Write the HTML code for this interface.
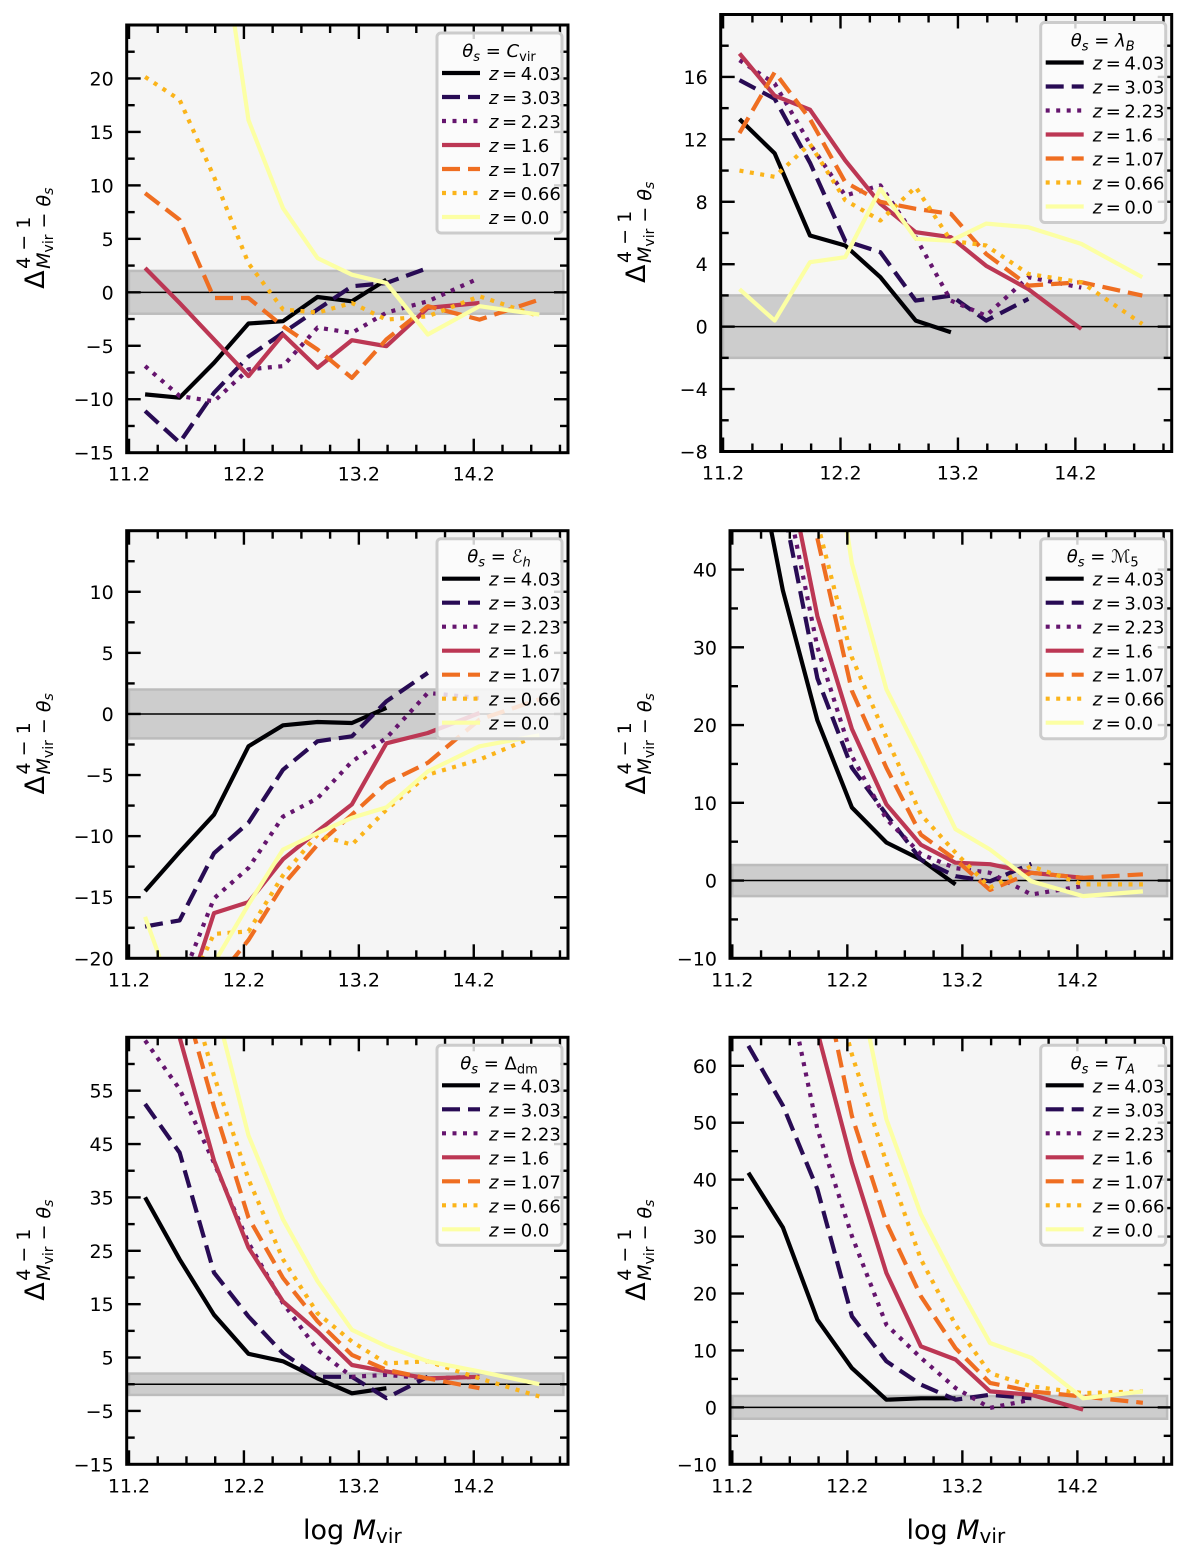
<!DOCTYPE html>
<html><head><meta charset="utf-8">
<style>
html,body{margin:0;padding:0;background:#fff;}
svg{display:block;font-family:"DejaVu Sans","Liberation Sans",sans-serif;}
</style></head>
<body>
<svg id="fig" width="1200" height="1549" viewBox="0 0 1200 1549" xmlns="http://www.w3.org/2000/svg"></svg>
<script>
// ---- shared mass bins and redshift labels ----
const massBins = [11.34,11.64,11.94,12.24,12.54,12.84,13.14,13.44,13.8,14.25,14.77];
const redshifts = ['4.03','3.03','2.23','1.6','1.07','0.66','0.0'];
const xTicks = [11.2,12.2,13.2,14.2];

// ---- panel 1: C_vir ----
const cvir_z403 = [-9.55,-9.86,-6.6,-2.92,-2.7,-0.44,-0.84,1.18,null,null,null];
const cvir_z303 = [-11.1,-14.06,-9.4,-6.0,-3.8,-1.6,0.56,0.87,2.27,null,null];
const cvir_z223 = [-6.9,-9.7,-10.2,-7.2,-6.9,-3.3,-3.8,-1.9,-0.84,1.34,null];
const cvir_z16  = [2.27,-1.0,-4.4,-7.84,-3.95,-7.06,-4.48,-5.04,-1.46,-1.0,null];
const cvir_z107 = [9.27,6.78,-0.53,-0.53,-3.17,-5.35,-8.0,-4.4,-1.3,-2.55,-0.68];
const cvir_z066 = [20.15,18.0,10.8,2.7,-1.6,-1.9,-1.0,-2.55,-2.24,-0.37,-2.24];
const cvir_z00  = [80,60,38,16.1,7.87,3.2,1.65,0.87,-3.95,-1.3,-2.08];
const cvir_yticks = [-15,-10,-5,0,5,10,15,20];

// ---- panel 2: lambda_B ----
const lam_z403 = [13.3,11.1,5.84,5.2,3.17,0.39,-0.36,null,null,null,null];
const lam_z303 = [15.8,14.6,10.5,5.5,4.77,1.67,1.99,0.39,1.78,null,null];
const lam_z223 = [17.07,15.57,11.7,8.4,9.05,5.73,1.67,0.7,3.17,2.5,null];
const lam_z16  = [17.5,14.8,13.9,10.65,7.87,6.05,5.73,3.9,2.4,-0.15,null];
const lam_z107 = [12.4,16.3,13.3,9.26,8.0,7.55,7.23,4.66,2.63,2.85,1.99];
const lam_z066 = [10.0,9.6,11.7,8.1,6.8,8.94,5.5,5.2,3.38,2.85,0.17];
const lam_z00  = [2.4,0.39,4.13,4.45,8.83,5.63,5.5,6.6,6.37,5.3,3.17];
const lam_yticks = [-8,-4,0,4,8,12,16];

// ---- panel 3: E_h ----
const eh_z403 = [-14.5,-11.3,-8.25,-2.65,-0.93,-0.66,-0.74,0.5,null,null,null];
const eh_z303 = [-17.4,-16.9,-11.4,-8.9,-4.56,-2.24,-1.83,1.04,3.36,null,null];
const eh_z223 = [null,-22.2,-15.1,-12.6,-8.4,-6.9,-3.9,-1.97,1.72,1.3,null];
const eh_z16  = [null,-25,-16.3,-15.4,-11.9,-9.6,-7.4,-2.4,-1.56,0.08,null];
const eh_z107 = [null,-28,-22,-18.5,-14.0,-10.7,-8.25,-5.66,-4.0,-0.46,1.2];
const eh_z066 = [null,-24,-18.0,-17.8,-13.2,-9.9,-10.7,-7.84,-4.97,-3.74,-1.7];
const eh_z00  = [-16.6,-24.5,-20.4,-15.6,-11.1,-9.75,-8.5,-7.65,-4.7,-2.65,-1.75];
const eh_yticks = [-20,-15,-10,-5,0,5,10];

// ---- panel 4: M_5 ----
const m5_z403 = [60,37.3,20.6,9.4,4.9,2.7,-0.5,null,null,null,null];
const m5_z303 = [70,48.5,26,14.5,8.5,2.7,0.56,-0.1,2.15,null,null];
const m5_z223 = [75,52,30,16.0,7.9,3.4,1.6,1.0,-1.8,-0.7,null];
const m5_z16  = [80,56,34,19.5,9.8,4.6,2.3,2.1,1.0,0.35,null];
const m5_z107 = [90,65,44,24.4,14.5,5.9,2.7,-1.2,1.0,0.35,0.8];
const m5_z066 = [95,70,46,28.7,18.4,8.5,3.6,-0.9,1.85,-0.5,-0.5];
const m5_z00  = [120,90,70,40.8,24.6,15.8,6.6,4.0,-0.1,-2.0,-1.4];
const m5_yticks = [-10,0,10,20,30,40];

// ---- panel 5: Delta_dm ----
const ddm_z403 = [35.0,23.4,13.0,5.7,4.3,1.1,-1.7,-0.75,null,null,null];
const ddm_z303 = [52.5,43.4,20.9,12.7,5.8,1.4,1.4,-2.6,1.4,null,null];
const ddm_z223 = [64.4,55.3,41.5,26.5,15.2,6.45,1.4,1.75,1.1,1.4,null];
const ddm_z16  = [90,65,41.9,25.6,15.5,9.9,3.6,2.4,1.1,1.4,null];
const ddm_z107 = [100,75,52,31.2,19.9,11.8,5.5,2.7,1.1,-0.75,null];
const ddm_z066 = [110,80,57.8,38.4,23.4,13.3,8.0,3.9,4.3,1.1,-2.3];
const ddm_z00  = [140,100,72,46.6,30.9,19.3,10.2,7.1,4.3,2.4,0];
const ddm_yticks = [-15,-5,5,15,25,35,45,55];

// ---- panel 6: T_A ----
const ta_z403 = [41.2,31.6,15.4,6.9,1.35,1.6,1.6,null,null,null,null];
const ta_z303 = [63.5,53.0,38.3,16.0,8.1,4.0,1.35,2.2,1.6,null,null];
const ta_z223 = [100,78,48.9,30.1,14.5,8.7,3.4,-0.1,1.35,null,null];
const ta_z16  = [110,90,66,43.0,23.6,10.7,8.4,2.8,2.2,-0.4,null];
const ta_z107 = [120,100,80,51.2,32.4,19.5,10.4,4.3,2.8,1.9,0.8];
const ta_z066 = [130,110,85,62,43,26,14.5,6.0,3.7,2.5,2.8];
const ta_z00  = [150,120,100,80,50.6,33.9,22.2,11.3,8.7,1.6,2.8];
const ta_yticks = [-10,0,10,20,30,40,50,60];

const NS = 'http://www.w3.org/2000/svg';
const svg = document.getElementById('fig');
const colors = ['#000004','#280b54','#65156e','#bc3754','#ef6e21','#fbb41a','#fcffa4'];
const dashes = ['', '18 8', '4 6.5', '', '18 8', '4 6.5', ''];
const slug = ['z403','z303','z223','z16','z107','z066','z00'];
const LW = 4.2;

const panels = [
  {key:'cvir', L:126.7,R:568,T:25,B:452.7, ymin:-15,ymax:25, minor:2.5, yt:cvir_yticks,
   series:[cvir_z403,cvir_z303,cvir_z223,cvir_z16,cvir_z107,cvir_z066,cvir_z00],
   title:'<tspan font-style="italic">θ</tspan><tspan font-size="13" dy="4" font-style="italic">s</tspan><tspan dy="-4"> = </tspan><tspan font-style="italic">C</tspan><tspan font-size="13" dy="4">vir</tspan>', ylx:44, xlabel:false},
  {key:'lambda', L:720.7,R:1171.7,T:14.5,B:451.5, ymin:-8,ymax:20, minor:2, yt:lam_yticks,
   series:[lam_z403,lam_z303,lam_z223,lam_z16,lam_z107,lam_z066,lam_z00],
   title:'<tspan font-style="italic">θ</tspan><tspan font-size="13" dy="4" font-style="italic">s</tspan><tspan dy="-4"> = </tspan><tspan font-style="italic">λ</tspan><tspan font-size="13" dy="4" font-style="italic">B</tspan>', ylx:645, xlabel:false},
  {key:'eh', L:126.7,R:568,T:530.7,B:958.3, ymin:-20,ymax:15, minor:2.5, yt:eh_yticks,
   series:[eh_z403,eh_z303,eh_z223,eh_z16,eh_z107,eh_z066,eh_z00],
   title:'<tspan font-style="italic">θ</tspan><tspan font-size="13" dy="4" font-style="italic">s</tspan><tspan dy="-4"> = ℰ</tspan><tspan font-size="13" dy="4" font-style="italic">h</tspan>', ylx:44, xlabel:false},
  {key:'m5', L:730,R:1171.7,T:530.7,B:958.3, ymin:-10,ymax:45, minor:5, yt:m5_yticks,
   series:[m5_z403,m5_z303,m5_z223,m5_z16,m5_z107,m5_z066,m5_z00],
   title:'<tspan font-style="italic">θ</tspan><tspan font-size="13" dy="4" font-style="italic">s</tspan><tspan dy="-4"> = ℳ</tspan><tspan font-size="13" dy="4">5</tspan>', ylx:645, xlabel:false},
  {key:'ddm', L:126.7,R:568,T:1037.3,B:1464.3, ymin:-15,ymax:65, minor:5, yt:ddm_yticks,
   series:[ddm_z403,ddm_z303,ddm_z223,ddm_z16,ddm_z107,ddm_z066,ddm_z00],
   title:'<tspan font-style="italic">θ</tspan><tspan font-size="13" dy="4" font-style="italic">s</tspan><tspan dy="-4"> = Δ</tspan><tspan font-size="13" dy="4">dm</tspan>', ylx:44, xlabel:true},
  {key:'ta', L:730,R:1171.7,T:1037.3,B:1464.3, ymin:-10,ymax:65, minor:5, yt:ta_yticks,
   series:[ta_z403,ta_z303,ta_z223,ta_z16,ta_z107,ta_z066,ta_z00],
   title:'<tspan font-style="italic">θ</tspan><tspan font-size="13" dy="4" font-style="italic">s</tspan><tspan dy="-4"> = </tspan><tspan font-style="italic">T</tspan><tspan font-size="13" dy="4" font-style="italic">A</tspan>', ylx:645, xlabel:true}
];

const XMIN = 11.18, XMAX = 15.02;

function el(tag, attrs, parent){
  const e = document.createElementNS(NS, tag);
  for (const k in attrs) e.setAttribute(k, attrs[k]);
  (parent||svg).appendChild(e);
  return e;
}

panels.forEach((p, pi) => {
  const sx = v => p.L + (v - XMIN) / (XMAX - XMIN) * (p.R - p.L);
  const sy = v => p.B - (v - p.ymin) / (p.ymax - p.ymin) * (p.B - p.T);
  const g = el('g', {});
  
  

  const bg = el('rect', {x:p.L, y:p.T, width:p.R-p.L, height:p.B-p.T, fill:'#f5f5f5'}, g);
  
  

  const cp = el('clipPath', {id:'clip'+pi}, g);
  el('rect', {x:p.L, y:p.T, width:p.R-p.L, height:p.B-p.T}, cp);

  const band = el('rect', {x:sx(11.2), y:sy(2), width:sx(14.98)-sx(11.2), height:sy(-2)-sy(2), fill:'#cdcdcd', stroke:'#bcbcbc', 'stroke-width':2.5}, g);
  
  

  const zl = el('line', {x1:p.L, x2:p.R, y1:sy(0), y2:sy(0), stroke:'#000', 'stroke-width':1.5}, g);
  
  

  const lg = el('g', {'clip-path':'url(#clip'+pi+')'}, g);
  p.series.forEach((vals, si) => {
    const segs = [];
    let cur = [];
    vals.forEach((v, i) => {
      if (v === null) { if (cur.length) segs.push(cur); cur = []; }
      else cur.push(sx(massBins[i]).toFixed(1) + ',' + sy(v).toFixed(1));
    });
    if (cur.length) segs.push(cur);
    segs.forEach(s => {
      const pl = el('polyline', {points:s.join(' '), fill:'none', stroke:colors[si], 'stroke-width':LW, 'stroke-linejoin':'round', 'stroke-dasharray':dashes[si]||'none'}, lg);
      
      
    });
  });

  // ticks
  const tg = el('g', {stroke:'#000', 'stroke-width':2.4}, g);
  for (let v = 11.2; v <= 15.0 + 1e-6; v += 0.25) {
    const major = xTicks.some(t => Math.abs(t - v) < 1e-6);
    const len = major ? 14 : 8;
    const x = sx(v);
    el('line', {x1:x, x2:x, y1:p.B, y2:p.B-len}, tg);
    el('line', {x1:x, x2:x, y1:p.T, y2:p.T+len}, tg);
  }
  for (let v = p.ymin; v <= p.ymax + 1e-6; v += p.minor) {
    const major = p.yt.some(t => Math.abs(t - v) < 1e-6);
    const len = major ? 14 : 8;
    const y = sy(v);
    el('line', {x1:p.L, x2:p.L+len, y1:y, y2:y}, tg);
    el('line', {x1:p.R, x2:p.R-len, y1:y, y2:y}, tg);
  }
  xTicks.forEach(t => {
    const tx = el('text', {x:sx(t), y:p.B+28, 'font-size':19, 'text-anchor':'middle', fill:'#000'}, g);
    tx.textContent = t.toFixed(1);
    
    
  });
  p.yt.forEach(t => {
    const ty = el('text', {x:p.L-13, y:sy(t)+7, 'font-size':19, 'text-anchor':'end', fill:'#000'}, g);
    ty.textContent = (t < 0 ? '\u2212' + Math.abs(t) : String(t));
    
    
  });

  const border = el('rect', {x:p.L, y:p.T, width:p.R-p.L, height:p.B-p.T, fill:'none', stroke:'#000', 'stroke-width':3}, g);
  
  

  // legend
  const lx = p.R - 131, ly = p.T + 8;
  const leg = el('g', {}, g);
  
  
  el('rect', {x:lx, y:ly, width:125, height:200, rx:4, fill:'rgba(252,252,252,0.82)', stroke:'#cccccc', 'stroke-width':3}, leg);
  const tt = el('text', {x:lx+62, y:ly+24, 'font-size':18, 'text-anchor':'middle', fill:'#000'}, leg);
  tt.innerHTML = p.title;
  
  
  redshifts.forEach((z, i) => {
    const cy = ly + 40 + 24 * i;
    const ent = el('g', {}, leg);
    
    
    el('line', {x1:lx+5, x2:lx+43, y1:cy, y2:cy, stroke:colors[i], 'stroke-width':LW, 'stroke-dasharray':dashes[i]||'none'}, ent);
    const t = el('text', {x:lx+52, y:cy+7, 'font-size':18, fill:'#000'}, ent);
    t.innerHTML = '<tspan font-style="italic">z</tspan>\u2009=\u2009' + z;
  });

  // y label
  const cy = (p.T + p.B) / 2;
  const yl = el('g', {transform:'translate(' + p.ylx + ',' + cy + ') rotate(-90)'}, g);
  
  
  const d1 = el('text', {x:-50, y:0, 'font-size':27, fill:'#000'}, yl);
  d1.textContent = 'Δ';
  const d2 = el('text', {x:-30, y:-14, 'font-size':19, fill:'#000'}, yl);
  d2.textContent = '4 \u2212 1';
  const d3 = el('text', {x:-30, y:6, 'font-size':19, fill:'#000'}, yl);
  d3.innerHTML = '<tspan font-style="italic">M</tspan><tspan font-size="14" dy="3">vir</tspan><tspan dy="-3"> \u2212 </tspan><tspan font-style="italic">θ</tspan><tspan font-size="14" dy="3" font-style="italic">s</tspan>';

  if (p.xlabel) {
    const xl = el('text', {x:(p.L+p.R)/2 + 5, y:1539, 'font-size':27, 'text-anchor':'middle', fill:'#000'}, g);
    xl.innerHTML = 'log <tspan font-style="italic">M</tspan><tspan font-size="20" dy="4">vir</tspan>';
    
    
  }
});
</script>
</body></html>
